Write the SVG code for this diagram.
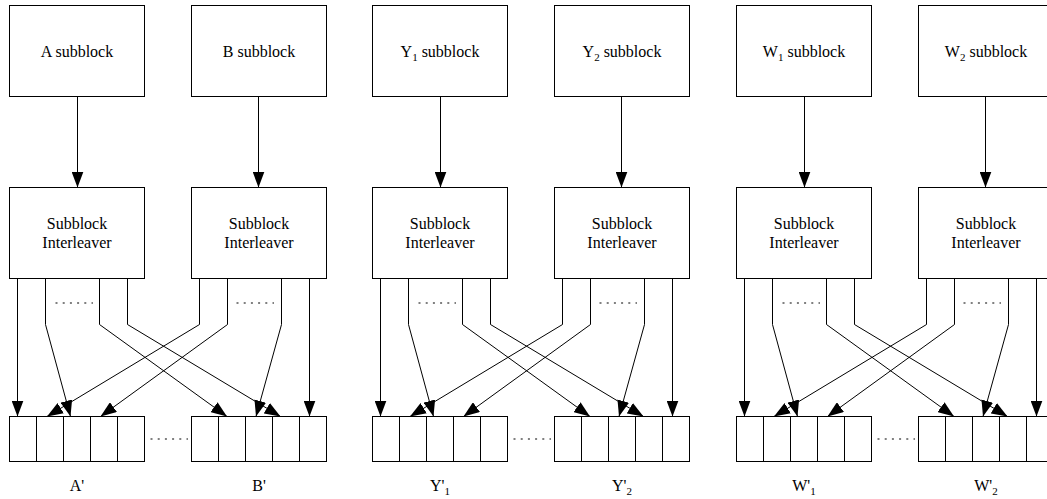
<svg xmlns="http://www.w3.org/2000/svg" width="1047" height="499" viewBox="0 0 1047 499" font-family="'Liberation Serif', 'DejaVu Serif', serif">
  <style>
    .box { fill: #ffffff; stroke: #000000; stroke-width: 1; }
    .cell { stroke: #000000; stroke-width: 1; fill: none; }
    .wire { fill: none; stroke: #000000; stroke-width: 1; marker-end: url(#head); }
    .dots { fill: none; stroke: #808080; stroke-width: 2; stroke-dasharray: 2 5.2; }
    .lbl { font-family: 'Liberation Serif', 'DejaVu Serif', serif; font-size: 16px; fill: #000000; text-anchor: middle; }
    .sub { font-size: 11px; }
  </style>
  <defs>
    <marker id="head" viewBox="0 -6 16 12" markerUnits="userSpaceOnUse" markerWidth="16" markerHeight="12" refX="16" refY="0" orient="auto">
      <path d="M0,-6 L16,0 L0,6 Z" fill="#000000"/>
    </marker>
    <!-- one five-cell output buffer -->
    <g id="buffer">
      <rect class="box" x="0" y="0" width="135" height="45"/>
      <path class="cell" d="M27,0 V45 M54,0 V45 M81,0 V45 M108,0 V45"/>
    </g>
  </defs>

  <rect x="0" y="0" width="1047" height="499" fill="#ffffff"/>

  <!-- connectors: one set per section -->
  <g id="connectors">
    <g transform="translate(0,0)">
      <path class="wire" d="M77.5,96.5 V187.5"/>
      <path class="wire" d="M258.5,96.5 V187.5"/>
      <path class="wire" d="M17.5,278.5 V416.5"/>
      <path class="wire" d="M45.5,278.5 V324.5 L70.5,416.5"/>
      <path class="wire" d="M99.5,278.5 V324.5 L227,416.5"/>
      <path class="wire" d="M127.5,278.5 V324.5 L280.5,416.5"/>
      <path class="wire" d="M199.5,278.5 V324.5 L47,416.5"/>
      <path class="wire" d="M227.5,278.5 V324.5 L100.5,416.5"/>
      <path class="wire" d="M281.5,278.5 V324.5 L256,416.5"/>
      <path class="wire" d="M309.5,278.5 V416.5"/>
    </g>
    <g transform="translate(363,0)">
      <path class="wire" d="M77.5,96.5 V187.5"/>
      <path class="wire" d="M258.5,96.5 V187.5"/>
      <path class="wire" d="M17.5,278.5 V416.5"/>
      <path class="wire" d="M45.5,278.5 V324.5 L70.5,416.5"/>
      <path class="wire" d="M99.5,278.5 V324.5 L227,416.5"/>
      <path class="wire" d="M127.5,278.5 V324.5 L280.5,416.5"/>
      <path class="wire" d="M199.5,278.5 V324.5 L47,416.5"/>
      <path class="wire" d="M227.5,278.5 V324.5 L100.5,416.5"/>
      <path class="wire" d="M281.5,278.5 V324.5 L256,416.5"/>
      <path class="wire" d="M309.5,278.5 V416.5"/>
    </g>
    <g transform="translate(727,0)">
      <path class="wire" d="M77.5,96.5 V187.5"/>
      <path class="wire" d="M258.5,96.5 V187.5"/>
      <path class="wire" d="M17.5,278.5 V416.5"/>
      <path class="wire" d="M45.5,278.5 V324.5 L70.5,416.5"/>
      <path class="wire" d="M99.5,278.5 V324.5 L227,416.5"/>
      <path class="wire" d="M127.5,278.5 V324.5 L280.5,416.5"/>
      <path class="wire" d="M199.5,278.5 V324.5 L47,416.5"/>
      <path class="wire" d="M227.5,278.5 V324.5 L100.5,416.5"/>
      <path class="wire" d="M281.5,278.5 V324.5 L256,416.5"/>
      <path class="wire" d="M309.5,278.5 V416.5"/>
    </g>
  </g>

  <!-- section A / B -->
  <g id="section-ab">
    <g id="a-subblock">
      <rect class="box" x="9.5" y="5.5" width="135" height="91"/>
      <text class="lbl" x="77" y="57">A subblock</text>
    </g>
    <g id="b-subblock">
      <rect class="box" x="191.5" y="5.5" width="135" height="91"/>
      <text class="lbl" x="259" y="57">B subblock</text>
    </g>
    <g id="a-interleaver">
      <rect class="box" x="9.5" y="187.5" width="135" height="91"/>
      <text class="lbl" x="77" y="229">Subblock</text>
      <text class="lbl" x="77" y="248">Interleaver</text>
      <path class="dots" d="M55.5,303 H93"/>
    </g>
    <g id="b-interleaver">
      <rect class="box" x="191.5" y="187.5" width="135" height="91"/>
      <text class="lbl" x="259" y="229">Subblock</text>
      <text class="lbl" x="259" y="248">Interleaver</text>
      <path class="dots" d="M236.5,303 H274"/>
    </g>
    <g id="a-buffer">
      <use href="#buffer" x="9.5" y="416.5"/>
      <text class="lbl" x="77" y="491">A'</text>
    </g>
    <g id="b-buffer">
      <use href="#buffer" x="191.5" y="416.5"/>
      <text class="lbl" x="259" y="491">B'</text>
    </g>
    <path class="dots" d="M150.5,439 H188"/>
  </g>

  <!-- section Y1 / Y2 -->
  <g id="section-y">
    <g id="y1-subblock">
      <rect class="box" x="372.5" y="5.5" width="135" height="91"/>
      <text class="lbl" x="440" y="57">Y<tspan class="sub" dy="4">1</tspan><tspan dy="-4"> subblock</tspan></text>
    </g>
    <g id="y2-subblock">
      <rect class="box" x="554.5" y="5.5" width="135" height="91"/>
      <text class="lbl" x="622" y="57">Y<tspan class="sub" dy="4">2</tspan><tspan dy="-4"> subblock</tspan></text>
    </g>
    <g id="y1-interleaver">
      <rect class="box" x="372.5" y="187.5" width="135" height="91"/>
      <text class="lbl" x="440" y="229">Subblock</text>
      <text class="lbl" x="440" y="248">Interleaver</text>
      <path class="dots" d="M418.5,303 H456"/>
    </g>
    <g id="y2-interleaver">
      <rect class="box" x="554.5" y="187.5" width="135" height="91"/>
      <text class="lbl" x="622" y="229">Subblock</text>
      <text class="lbl" x="622" y="248">Interleaver</text>
      <path class="dots" d="M599.5,303 H637"/>
    </g>
    <g id="y1-buffer">
      <use href="#buffer" x="372.5" y="416.5"/>
      <text class="lbl" x="440" y="491">Y'<tspan class="sub" dy="4">1</tspan></text>
    </g>
    <g id="y2-buffer">
      <use href="#buffer" x="554.5" y="416.5"/>
      <text class="lbl" x="622" y="491">Y'<tspan class="sub" dy="4">2</tspan></text>
    </g>
    <path class="dots" d="M513.5,439 H551"/>
  </g>

  <!-- section W1 / W2 -->
  <g id="section-w">
    <g id="w1-subblock">
      <rect class="box" x="736.5" y="5.5" width="135" height="91"/>
      <text class="lbl" x="804" y="57">W<tspan class="sub" dy="4">1</tspan><tspan dy="-4"> subblock</tspan></text>
    </g>
    <g id="w2-subblock">
      <rect class="box" x="918.5" y="5.5" width="135" height="91"/>
      <text class="lbl" x="986" y="57">W<tspan class="sub" dy="4">2</tspan><tspan dy="-4"> subblock</tspan></text>
    </g>
    <g id="w1-interleaver">
      <rect class="box" x="736.5" y="187.5" width="135" height="91"/>
      <text class="lbl" x="804" y="229">Subblock</text>
      <text class="lbl" x="804" y="248">Interleaver</text>
      <path class="dots" d="M782.5,303 H820"/>
    </g>
    <g id="w2-interleaver">
      <rect class="box" x="918.5" y="187.5" width="135" height="91"/>
      <text class="lbl" x="986" y="229">Subblock</text>
      <text class="lbl" x="986" y="248">Interleaver</text>
      <path class="dots" d="M963.5,303 H1001"/>
    </g>
    <g id="w1-buffer">
      <use href="#buffer" x="736.5" y="416.5"/>
      <text class="lbl" x="804" y="491">W'<tspan class="sub" dy="4">1</tspan></text>
    </g>
    <g id="w2-buffer">
      <use href="#buffer" x="918.5" y="416.5"/>
      <text class="lbl" x="986" y="491">W'<tspan class="sub" dy="4">2</tspan></text>
    </g>
    <path class="dots" d="M877.5,439 H915"/>
  </g>
</svg>
